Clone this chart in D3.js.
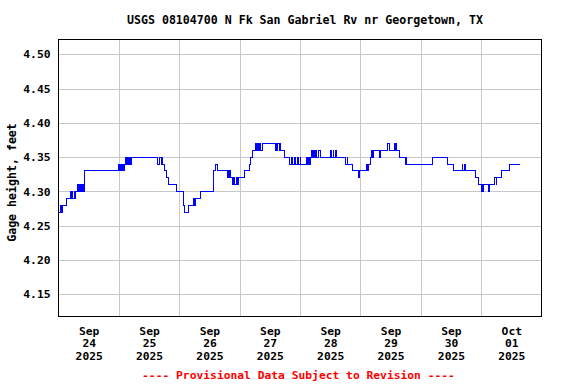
<!DOCTYPE html>
<html>
<head>
<meta charset="utf-8">
<script src="https://cdn.jsdelivr.net/npm/d3@7"></script>
<style>
  body { margin: 0; background: #fff; }
  text { font-family: "DejaVu Sans Mono", monospace; font-weight: bold; }
</style>
</head>
<body>
<div id="chart"></div>
<script>
const title = 'USGS 08104700 N Fk San Gabriel Rv nr Georgetown, TX';
const yLabel = 'Gage height, feet';
const note = '---- Provisional Data Subject to Revision ----';

// hours after 2025-09-24 00:00 where the gage height changes
const stepHours = [
    0, 0.75, 1.0, 1.5, 3.25, 4.75, 5.25, 5.5, 5.75, 6.25, 6.5, 6.75, 7.75, 8.0, 8.25, 8.75, 9.0, 9.5, 9.75, 10.0, 10.25, 10.5,
    24.0, 24.25, 24.5, 24.75, 25.0, 25.25, 25.75, 26.0, 26.25, 26.75, 27.0, 27.5, 27.75, 28.25, 28.5, 29.0,
    39.5, 40.0, 40.75, 41.0, 41.5, 42.25, 43.0, 43.75, 46.75, 49.75, 50.0,
    51.75, 53.5, 53.75, 54.0, 54.25, 54.5, 56.25, 61.5, 61.75, 62.5, 63.25,
    67.0, 67.25, 67.75, 68.0, 68.5, 69.25, 69.5, 70.0, 70.75, 71.25, 71.5, 73.75, 75.75, 76.5, 77.25,
    78.5, 78.75, 79.25, 79.5, 80.0, 80.25, 81.25,
    86.25, 86.5, 87.0, 87.25, 87.75, 88.0, 88.25, 89.75, 92.0, 92.75, 93.0, 94.0, 94.25, 95.0, 95.25, 96.0, 96.25,
    98.5, 98.75, 99.0, 99.25, 99.5, 99.75, 100.0, 100.75, 101.0, 101.25, 101.75, 102.0, 102.5, 103.5, 104.25,
    108.25, 108.5, 109.25, 109.5, 110.25, 110.5, 114.25, 114.75, 115.0, 116.75, 119.25, 119.5,
    122.5, 122.75, 123.25, 124.0, 124.5, 124.75, 125.25, 127.75, 128.0, 130.75, 131.5, 133.5, 133.75, 134.0, 134.5, 135.5, 137.75, 138.0, 138.5,
    148.5, 154.75, 157.0, 160.5, 160.75, 161.5, 161.75, 165.75, 167.0, 168.25, 168.5, 168.75, 169.0, 171.0, 171.5,
    173.5, 174.0, 174.25, 176.0, 179.25, 183.5
];
const stepValues = [
    4.27, 4.28, 4.27, 4.28, 4.29, 4.30, 4.29, 4.30, 4.29, 4.30, 4.29, 4.30, 4.31, 4.30, 4.31, 4.30, 4.31, 4.30, 4.31, 4.30, 4.31, 4.33,
    4.34, 4.33, 4.34, 4.33, 4.34, 4.33, 4.34, 4.33, 4.34, 4.35, 4.34, 4.35, 4.34, 4.35, 4.34, 4.35,
    4.34, 4.35, 4.34, 4.35, 4.34, 4.33, 4.32, 4.31, 4.30, 4.28, 4.27,
    4.28, 4.29, 4.28, 4.29, 4.28, 4.29, 4.30, 4.31, 4.33, 4.34, 4.33,
    4.32, 4.33, 4.32, 4.33, 4.32, 4.31, 4.32, 4.31, 4.32, 4.31, 4.32, 4.33, 4.34, 4.35, 4.36,
    4.37, 4.36, 4.37, 4.36, 4.37, 4.36, 4.37,
    4.36, 4.37, 4.36, 4.37, 4.36, 4.37, 4.36, 4.35, 4.34, 4.35, 4.34, 4.35, 4.34, 4.35, 4.34, 4.35, 4.34,
    4.35, 4.34, 4.35, 4.34, 4.35, 4.34, 4.35, 4.36, 4.35, 4.36, 4.35, 4.36, 4.35, 4.36, 4.35,
    4.36, 4.35, 4.36, 4.35, 4.36, 4.35, 4.34, 4.35, 4.34, 4.33, 4.32, 4.33,
    4.34, 4.33, 4.34, 4.35, 4.36, 4.35, 4.36, 4.35, 4.36, 4.37, 4.36, 4.37, 4.36, 4.37, 4.36, 4.35, 4.34, 4.35, 4.34,
    4.35, 4.34, 4.33, 4.34, 4.33, 4.34, 4.33, 4.32, 4.31, 4.30, 4.31, 4.30, 4.31, 4.30, 4.31,
    4.32, 4.31, 4.32, 4.33, 4.34, 4.34
];

const yTicks = [4.15, 4.20, 4.25, 4.30, 4.35, 4.40, 4.45, 4.50];
const dayLabels = [['Sep', '24', '2025'], ['Sep', '25', '2025'], ['Sep', '26', '2025'], ['Sep', '27', '2025'],
    ['Sep', '28', '2025'], ['Sep', '29', '2025'], ['Sep', '30', '2025'], ['Oct', '01', '2025']];

const width = 576;
const height = 384;
const plotLeft = 58.5, plotRight = 541.5, plotTop = 39.5, plotBottom = 316;
const start = new Date(2025, 8, 24);
const end = new Date(2025, 9, 2);
const hour = 3600 * 1000;

const x = d3.scaleTime()
    .domain([start, end])
    .range([plotLeft, plotRight]);

const y = d3.scaleLinear()
    .domain([4.1184, 4.5216])
    .range([plotBottom, plotTop]);

const svg = d3.select('#chart').append('svg')
    .attr('width', width)
    .attr('height', height);

// horizontal grid + y labels
const yAxis = svg.append('g')
    .attr('transform', `translate(${plotLeft},0)`)
    .call(d3.axisLeft(y).tickValues(yTicks).tickFormat(d3.format('.2f'))
        .tickSize(-(plotRight - plotLeft)).tickPadding(8));
yAxis.select('.domain').remove();
yAxis.selectAll('line').attr('stroke', '#c8c8c8').attr('shape-rendering', 'crispEdges');
yAxis.selectAll('text').attr('font-size', '11.3px').attr('fill', '#000')
    .attr('font-family', '"DejaVu Sans Mono", monospace');

// vertical grid at midnight
const midnights = d3.timeDay.range(d3.timeDay.offset(start, 1), end);
const xGrid = svg.append('g')
    .attr('transform', `translate(0,${plotBottom})`)
    .call(d3.axisBottom(x).tickValues(midnights).tickSize(-(plotBottom - plotTop)).tickFormat(''));
xGrid.select('.domain').remove();
xGrid.selectAll('line').attr('stroke', '#c8c8c8').attr('shape-rendering', 'crispEdges');

// day labels at noon
const noons = d3.timeDay.range(start, end).map(d => new Date(+d + 12 * hour));
const xAxis = svg.append('g')
    .attr('transform', `translate(0,${plotBottom})`)
    .call(d3.axisBottom(x).tickValues(noons).tickSize(0).tickFormat(''));
xAxis.select('.domain').remove();
xAxis.selectAll('.tick').each(function (d, i) {
    const t = d3.select(this).append('text')
        .attr('fill', '#000')
        .attr('font-size', '11.3px')
        .attr('font-family', '"DejaVu Sans Mono", monospace')
        .attr('font-weight', 'bold')
        .attr('text-anchor', 'middle');
    dayLabels[i].forEach((s, k) => {
        t.append('tspan').attr('x', 0).attr('y', 18.5 + k * 12.7).text(s);
    });
});

// data line
const data = stepHours.map((h, i) => ({ t: new Date(+start + h * hour), v: stepValues[i] }));
const line = d3.line()
    .x(d => x(d.t))
    .y(d => y(d.v))
    .curve(d3.curveStepAfter);

svg.append('path')
    .datum(data)
    .attr('d', line)
    .attr('fill', 'none')
    .attr('stroke', '#0000ff')
    .attr('stroke-width', 1)
    .attr('shape-rendering', 'crispEdges');

// frame
svg.append('rect')
    .attr('x', plotLeft).attr('y', plotTop)
    .attr('width', plotRight - plotLeft).attr('height', plotBottom - plotTop)
    .attr('fill', 'none')
    .attr('stroke', '#000')
    .attr('shape-rendering', 'crispEdges');

svg.append('text')
    .attr('x', 305).attr('y', 24)
    .attr('text-anchor', 'middle')
    .attr('font-size', '11.6px')
    .text(title);

svg.append('text')
    .attr('transform', 'translate(16,182.5) rotate(-90)')
    .attr('text-anchor', 'middle')
    .attr('font-size', '11.6px')
    .text(yLabel);

svg.append('text')
    .attr('x', 298.5).attr('y', 378.5)
    .attr('text-anchor', 'middle')
    .attr('font-size', '11.3px')
    .attr('fill', '#ff0000')
    .text(note);
</script>
</body>
</html>
